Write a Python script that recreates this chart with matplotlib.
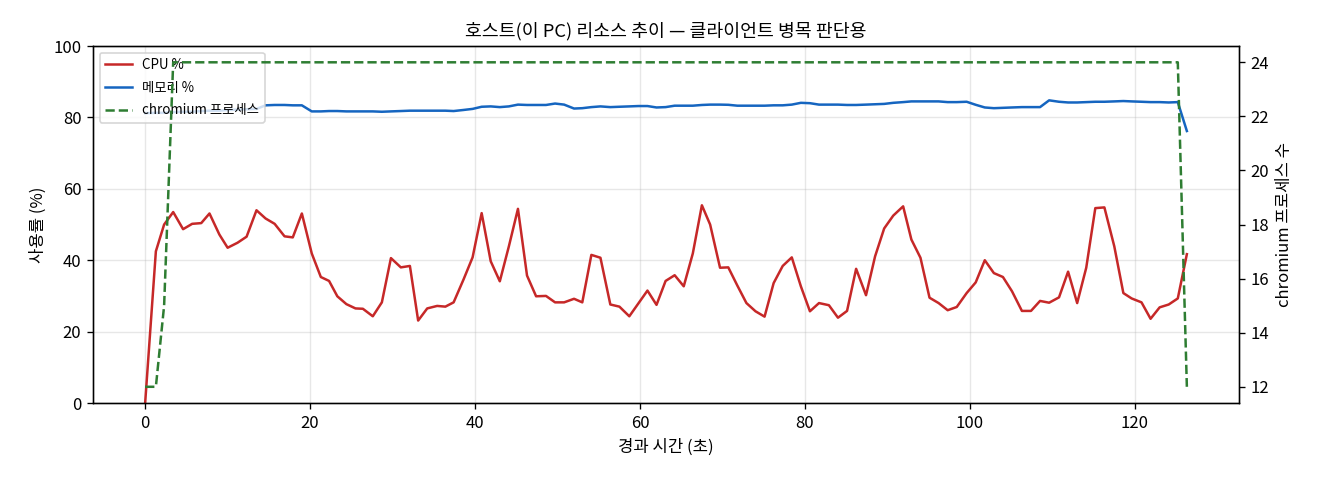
import matplotlib
matplotlib.use("Agg")
import matplotlib.pyplot as plt

plt.rcParams['font.family'] = ['Noto Sans CJK KR', 'DejaVu Sans']
plt.rcParams['axes.unicode_minus'] = False

# 경과 시간 (초)
elapsed = [
    0.0, 1.3, 2.3, 3.4, 4.6, 5.7, 6.8, 7.8, 9.0, 10.0,
    11.2, 12.3, 13.5, 14.6, 15.7, 16.9, 17.9, 19.0, 20.2, 21.3,
    22.3, 23.3, 24.4, 25.5, 26.4, 27.6, 28.7, 29.8, 31.0, 32.1,
    33.1, 34.2, 35.4, 36.4, 37.4, 38.6, 39.7, 40.8, 41.9, 43.0,
    44.1, 45.2, 46.3, 47.4, 48.6, 49.7, 50.8, 52.0, 53.0, 54.1,
    55.2, 56.4, 57.5, 58.7, 59.8, 60.9, 62.0, 63.1, 64.2, 65.3,
    66.4, 67.5, 68.5, 69.7, 70.7, 71.8, 72.9, 74.0, 75.1, 76.2,
    77.3, 78.4, 79.5, 80.6, 81.7, 82.9, 84.0, 85.1, 86.2, 87.4,
    88.5, 89.6, 90.7, 91.9, 92.9, 94.0, 95.1, 96.2, 97.3, 98.4,
    99.6, 100.7, 101.8, 102.9, 104.0, 105.1, 106.3, 107.4, 108.5, 109.6,
    110.8, 111.9, 113.0, 114.1, 115.2, 116.3, 117.5, 118.6, 119.6, 120.8,
    121.9, 123.0, 124.1, 125.2, 126.3,
]

cpu_pct = [
    0.0, 42.5, 50.0, 53.5, 48.7, 50.2, 50.4, 53.1, 47.2, 43.5,
    44.9, 46.6, 54.0, 51.7, 50.2, 46.7, 46.4, 53.1, 41.9, 35.3,
    34.2, 29.9, 27.7, 26.5, 26.4, 24.3, 28.2, 40.6, 38.0, 38.4,
    23.1, 26.5, 27.2, 27.0, 28.2, 34.6, 40.8, 53.2, 39.7, 34.1,
    43.9, 54.4, 35.7, 29.9, 30.0, 28.2, 28.2, 29.2, 28.2, 41.5,
    40.7, 27.6, 27.0, 24.3, 27.9, 31.5, 27.5, 34.2, 35.8, 32.7,
    41.9, 55.4, 50.0, 37.9, 38.0, 32.9, 28.0, 25.7, 24.2, 33.6,
    38.4, 40.8, 32.7, 25.7, 28.0, 27.4, 23.9, 25.8, 37.6, 30.2,
    41.1, 48.9, 52.5, 55.1, 45.8, 40.7, 29.5, 28.0, 26.0, 26.9,
    30.8, 33.8, 40.0, 36.4, 35.3, 31.3, 25.8, 25.8, 28.6, 28.1,
    29.6, 36.8, 28.0, 37.9, 54.6, 54.8, 43.9, 30.8, 29.3, 28.2,
    23.6, 26.8, 27.6, 29.3, 41.7,
]

mem_pct = [
    81.2, 81.3, 81.3, 81.5, 81.6, 81.6, 81.8, 81.9, 81.9, 82.1,
    82.2, 82.3, 82.4, 83.4, 83.5, 83.5, 83.4, 83.4, 81.7, 81.7,
    81.8, 81.8, 81.7, 81.7, 81.7, 81.7, 81.6, 81.7, 81.8, 81.9,
    81.9, 81.9, 81.9, 81.9, 81.8, 82.1, 82.4, 83.0, 83.1, 82.9,
    83.1, 83.6, 83.5, 83.5, 83.5, 83.9, 83.6, 82.5, 82.6, 82.9,
    83.1, 82.9, 83.0, 83.1, 83.2, 83.2, 82.8, 82.9, 83.3, 83.3,
    83.3, 83.5, 83.6, 83.6, 83.55, 83.3, 83.3, 83.3, 83.3, 83.4,
    83.4, 83.6, 84.1, 84.0, 83.6, 83.6, 83.6, 83.5, 83.5, 83.6,
    83.7, 83.8, 84.1, 84.3, 84.5, 84.5, 84.5, 84.5, 84.3, 84.3,
    84.4, 83.55, 82.8, 82.6, 82.7, 82.8, 82.9, 82.9, 82.9, 84.8,
    84.4, 84.2, 84.2, 84.3, 84.4, 84.4, 84.5, 84.6, 84.5, 84.4,
    84.3, 84.3, 84.2, 84.3, 76.2,
]

chromium_procs = [12, 12, 15] + [24] * 111 + [12]

fig, ax = plt.subplots(figsize=(11, 4), dpi=120)
fig.subplots_adjust(left=0.0705, right=0.9386, bottom=0.1604, top=0.904)

l1, = ax.plot(elapsed, cpu_pct, color='#c62828', lw=1.5, label='CPU %')
l2, = ax.plot(elapsed, mem_pct, color='#1565c0', lw=1.5, label='메모리 %')
ax.set_ylim(0, 100)
ax.set_xlabel('경과 시간 (초)')
ax.set_ylabel('사용률 (%)')
ax.grid(True, alpha=0.3)

ax2 = ax.twinx()
l3, = ax2.plot(elapsed, chromium_procs, color='#2e7d32', lw=1.5, ls='--',
               label='chromium 프로세스')
ax2.set_ylabel('chromium 프로세스 수')

ax.legend(handles=[l1, l2, l3], loc='upper left', fontsize=8, labelspacing=0.65)
ax.set_title('호스트(이 PC) 리소스 추이 — 클라이언트 병목 판단용', fontsize=11)

fig.savefig('out.png')
